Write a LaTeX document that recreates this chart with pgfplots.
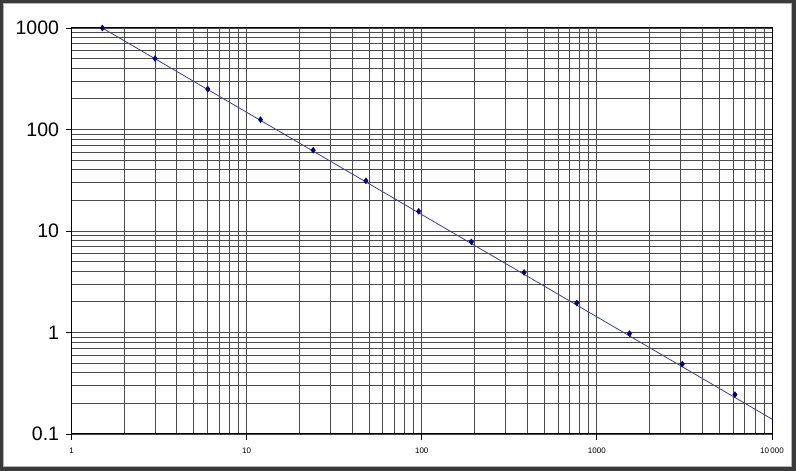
\documentclass[border=0pt]{standalone}
\usepackage{pgfplots}
\pgfplotsset{compat=1.18}
\usepackage{fontspec}
\setmainfont{Liberation Sans}
\definecolor{frame}{HTML}{3A3A3A}
\definecolor{gridc}{HTML}{4A4A4A}
\definecolor{navy}{HTML}{000080}
\definecolor{linec}{HTML}{3C3C9A}
\begin{document}
\begin{tikzpicture}[x=1bp,y=1bp]
\fill[frame] (0,0) rectangle (796,471);
\fill[white] (4,5) rectangle (791,467);
\draw[gray!60, line width=0.8bp] (3.5,4.5) rectangle (791.5,467.5);
\begin{axis}[
  at={(71.5bp,37bp)}, anchor=south west,
  scale only axis, width=700.5bp, height=406bp,
  xmode=log, ymode=log,
  xmin=1, xmax=10000, ymin=0.1, ymax=1000,
  xtick={1,10,100,1000,10000},
  xticklabels={1,10,100,1000,10\,000},
  ytick={0.1,1,10,100,1000},
  yticklabels={0.1,1,10,100,1000},
  grid=both,
  major grid style={gridc, line width=0.9bp},
  minor grid style={gridc, line width=0.9bp},
  axis line style={black, line width=1bp},
  tick pos=left, tick align=outside,
  major tick length=6bp, minor tick length=0pt,
  tick style={black, line width=0.8bp},
  xticklabel style={font=\fontsize{8bp}{9bp}\selectfont, yshift=-4bp},
  yticklabel style={font=\fontsize{19.5bp}{21bp}\selectfont, xshift=-3bp},
  clip=false,
]
\addplot[linec, line width=0.8bp, forget plot] coordinates {(1.5,1000) (10000,0.14)};
\addplot[only marks, mark=diamond*, mark size=3bp, navy] coordinates {
(1.5,1000) (3,500) (6,250) (12,125) (24,62.5) (48,31.25) (96,15.625)
(192,7.8125) (384,3.90625) (768,1.953125) (1536,0.9765625) (3072,0.48828125) (6144,0.244140625)};
\end{axis}
\end{tikzpicture}
\end{document}
